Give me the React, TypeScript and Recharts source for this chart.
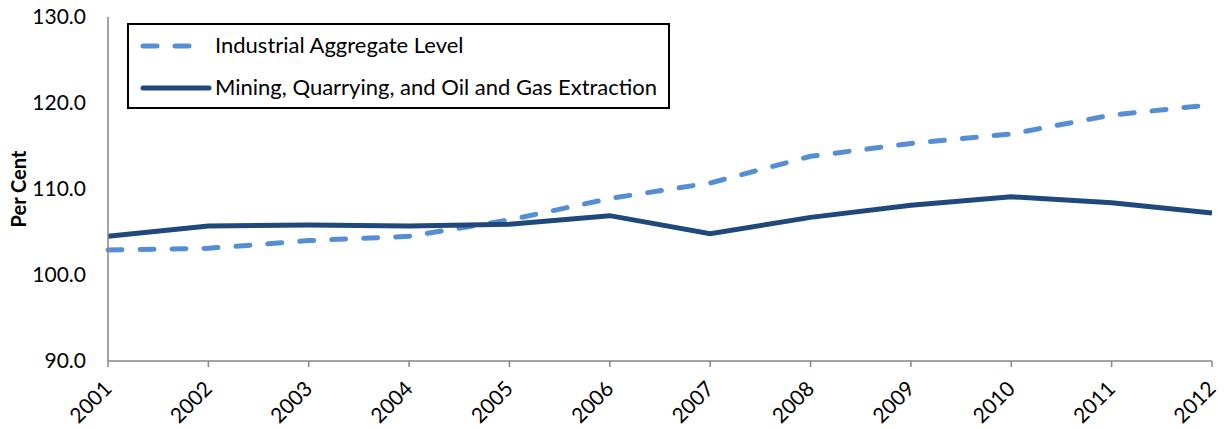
import { LineChart, Line, XAxis, YAxis } from "recharts";

const years = ["2001", "2002", "2003", "2004", "2005", "2006", "2007", "2008", "2009", "2010", "2011", "2012"];
const industrialAggregate = [102.9, 103.1, 104.0, 104.5, 106.4, 108.9, 110.7, 113.8, 115.3, 116.4, 118.6, 119.8];
const miningOilGas = [104.5, 105.7, 105.8, 105.7, 105.9, 106.9, 104.8, 106.7, 108.1, 109.1, 108.4, 107.2];
const yTicks = [90, 100, 110, 120, 130];

const data = years.map((year, i) => ({
  year,
  industrial: industrialAggregate[i],
  mining: miningOilGas[i],
}));

const FONT = "Lato, 'Open Sans', sans-serif";

function YearTick({ x, y, payload }: any) {
  return (
    <text
      x={x + 5}
      y={y + 21}
      transform={`rotate(-45, ${x + 5}, ${y + 21})`}
      textAnchor="end"
      fontFamily={FONT}
      fontSize={21}
      fill="#000"
    >
      {payload.value}
    </text>
  );
}

function LegendBox() {
  return (
    <div
      style={{
        position: "absolute",
        left: 127,
        top: 23,
        border: "2px solid #000",
        width: 543,
        height: 86,
        background: "#fff",
        fontFamily: FONT,
        fontSize: 22,
        color: "#000",
        boxSizing: "border-box",
      }}
    >
      <svg width={90} height={84} style={{ position: "absolute", left: 0, top: 0 }}>
        <line x1={14} y1={21} x2={74} y2={21} stroke="#558ED5" strokeWidth={5} strokeDasharray="14 18" strokeLinecap="round" />
        <line x1={14} y1={63} x2={80} y2={63} stroke="#1F497D" strokeWidth={5} strokeLinecap="round" />
      </svg>
      <div style={{ position: "absolute", left: 86, top: 6, whiteSpace: "nowrap" }}>Industrial Aggregate Level</div>
      <div style={{ position: "absolute", left: 86, top: 48, whiteSpace: "nowrap" }}>Mining, Quarrying, and Oil and Gas Extraction</div>
    </div>
  );
}

export default function App() {
  return (
    <div style={{ position: "absolute", left: 0, top: 0, width: 1224, height: 429, background: "#fff" }}>
      <LineChart width={1224} height={429} data={data} margin={{ top: 17, right: 12, left: 0, bottom: 0 }}>
        <XAxis
          dataKey="year"
          height={68}
          stroke="#868686"
          strokeWidth={1.5}
          tickSize={6}
          tick={<YearTick />}
          interval={0}
        />
        <YAxis
          domain={[90, 130]}
          ticks={yTicks}
          width={108}
          stroke="#868686"
          strokeWidth={1.5}
          tickLine={false}
          tickSize={0}
          tickMargin={22}
          tickFormatter={(v: number) => v.toFixed(1)}
          tick={{ fontFamily: FONT, fontSize: 21, fill: "#000" }}
          label={{
            value: "Per Cent",
            angle: -90,
            position: "insideLeft",
            offset: 19,
            style: { fontFamily: FONT, fontSize: 20, fontWeight: 700, fill: "#000", textAnchor: "middle" },
          }}
        />
        <Line
          type="linear"
          dataKey="industrial"
          name="Industrial Aggregate Level"
          stroke="#558ED5"
          strokeWidth={5}
          strokeDasharray="14 18"
          strokeLinecap="round"
          dot={false}
          isAnimationActive={false}
        />
        <Line
          type="linear"
          dataKey="mining"
          name="Mining, Quarrying, and Oil and Gas Extraction"
          stroke="#1F497D"
          strokeWidth={5}
          dot={false}
          isAnimationActive={false}
        />
      </LineChart>
      <LegendBox />
    </div>
  );
}
